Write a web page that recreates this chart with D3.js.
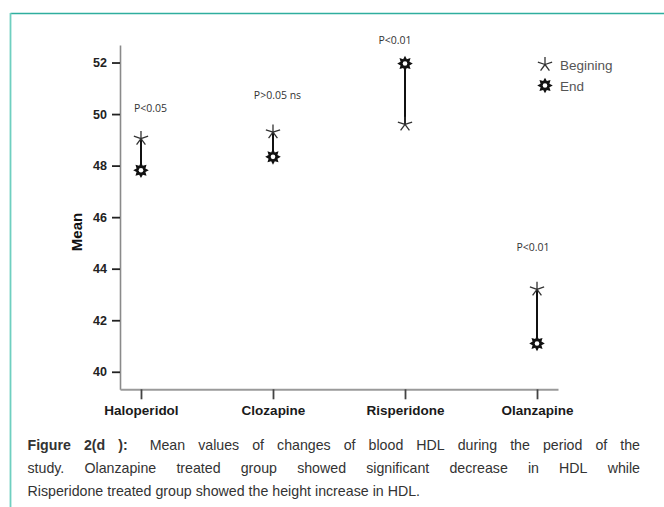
<!DOCTYPE html>
<html><head><meta charset="utf-8">
<script src="https://cdn.jsdelivr.net/npm/d3@7/dist/d3.min.js"></script>
<style>
html,body{margin:0;padding:0;background:#fff;}
svg{display:block;}
</style></head>
<body>
<script>
// ---- data ----
const categories = ["Haloperidol", "Clozapine", "Risperidone", "Olanzapine"];
const beginValues = [49.05, 49.30, 49.60, 43.20];
const endValues = [47.82, 48.34, 51.96, 41.10];
const pLabels = ["P<0.05", "P>0.05 ns", "P<0.01", "P<0.01"];
const pLabelValues = [50.08, 50.58, 52.72, 44.70];
const yTicks = [40, 42, 44, 46, 48, 50, 52];
const legendLabels = ["Begining", "End"];
const yTitle = "Mean";
const captionBold = "Figure 2(d ):";
const captionLines = [
  "Mean values of changes of blood HDL during the period of the",
  "study. Olanzapine treated group showed significant decrease in HDL while",
  "Risperidone treated group showed the height increase in HDL."
];

// ---- layout ----
const W = 664, H = 507;
const pLabelDx = [9.5, 4.5, -10, -4];
const svg = d3.select("body").append("svg").attr("width", W).attr("height", H);

// frame
svg.append("line").attr("x1", 10.5).attr("x2", W).attr("y1", 13.5).attr("y2", 13.5)
  .attr("stroke", "#2fae9e").attr("stroke-width", 1.6);
svg.append("line").attr("x1", 10.5).attr("x2", 10.5).attr("y1", 13).attr("y2", H)
  .attr("stroke", "#6fcfc0").attr("stroke-width", 1.8);

const x = d3.scalePoint().domain(categories).range([120, 558]).padding(0.159);
const y = d3.scaleLinear().domain([39.32, 52.68]).range([389.3, 45]);

// y axis
const yAxis = svg.append("g").attr("transform", "translate(120,0)")
  .call(d3.axisLeft(y).tickValues(yTicks).tickSize(8).tickSizeOuter(0).tickPadding(5).tickFormat(d3.format("d")));
yAxis.select(".domain").attr("stroke", "#8a8a8a").attr("stroke-width", 1.6);
yAxis.selectAll(".tick line").attr("stroke", "#222").attr("stroke-width", 1.8);
yAxis.selectAll(".tick text").attr("fill", "#222")
  .style("font-family", "'Liberation Sans', Arial, sans-serif").style("font-weight", "bold").style("font-size", "12.5px");

// x axis
const xAxis = svg.append("g").attr("transform", "translate(0,389.3)")
  .call(d3.axisBottom(x).tickSize(10).tickSizeOuter(0).tickPadding(6));
xAxis.select(".domain").attr("stroke", "#9a9a9a").attr("stroke-width", 2);
xAxis.selectAll(".tick line").attr("stroke", "#444").attr("stroke-width", 1.8);
xAxis.selectAll(".tick text").attr("fill", "#1a1a1a")
  .style("font-family", "'Liberation Sans', Arial, sans-serif").style("font-weight", "bold").style("font-size", "13.5px");

// y title
svg.append("text").attr("transform", `translate(82,232) rotate(-90)`)
  .attr("text-anchor", "middle").attr("fill", "#111")
  .style("font-family", "'Liberation Sans', Arial, sans-serif").style("font-weight", "bold").style("font-size", "15px")
  .text(yTitle);

// marker generators
function asteriskPath(r) {
  let p = "";
  for (let k = 0; k < 5; k++) {
    const a = (-90 + 72 * k) * Math.PI / 180;
    p += `M0,0L${(r * Math.cos(a)).toFixed(2)},${(r * Math.sin(a)).toFixed(2)}`;
  }
  return p;
}
function gearPath(ro, ri, n) {
  const pts = [];
  for (let k = 0; k < 2 * n; k++) {
    const a = (-90 + 180 / n * k) * Math.PI / 180;
    const r = k % 2 === 0 ? ro : ri;
    pts.push([r * Math.cos(a), r * Math.sin(a)]);
  }
  return "M" + pts.map(p => p[0].toFixed(2) + "," + p[1].toFixed(2)).join("L") + "Z";
}
function drawBegin(g, cx, cy) {
  g.append("path").attr("transform", `translate(${cx},${cy})`).attr("d", asteriskPath(7.5))
    .attr("fill", "none").attr("stroke", "#333").attr("stroke-width", 1.3);
}
function drawEnd(g, cx, cy) {
  const gg = g.append("g").attr("transform", `translate(${cx},${cy})`);
  gg.append("path").attr("d", gearPath(7.8, 4.8, 8)).attr("fill", "#111");
  gg.append("circle").attr("r", 2.3).attr("fill", "#fff");
}

// marks
const marks = svg.append("g");
categories.forEach((c, i) => {
  const cx = x(c);
  marks.append("line").attr("x1", cx).attr("x2", cx)
    .attr("y1", y(beginValues[i])).attr("y2", y(endValues[i]))
    .attr("stroke", "#111").attr("stroke-width", 2);
  drawBegin(marks, cx, y(beginValues[i]));
  drawEnd(marks, cx, y(endValues[i]));
  marks.append("text").attr("x", cx + pLabelDx[i]).attr("y", y(pLabelValues[i]))
    .attr("text-anchor", "middle").attr("fill", "#333")
    .style("font-family", "'Open Sans', 'Liberation Sans', sans-serif").style("font-size", "10.5px")
    .text(pLabels[i]);
});

// legend
const leg = svg.append("g");
drawBegin(leg, 545, 64.5);
drawEnd(leg, 545, 85.5);
legendLabels.forEach((t, i) => {
  leg.append("text").attr("x", 560).attr("y", 69.5 + i * 21).attr("fill", "#555")
    .style("font-family", "'Liberation Sans', Arial, sans-serif").style("font-size", "13.5px").text(t);
});

// caption (justified lines 1-2)
const capFont = "'Liberation Sans', Arial, sans-serif";
const capX0 = 27.5, capX1 = 640, capBase = [449.5, 472.7, 495.7];
captionLines.forEach((line, li) => {
  const words = line.split(" ");
  let items = words.map(w => ({ t: w, bold: false, extra: 0 }));
  if (li === 0) {
    const b = captionBold.split(" ").map(w => ({ t: w, bold: true, extra: 0 }));
    b[b.length - 1].extra = 9; // double space after the bold label
    items = b.concat(items);
  }
  const g = svg.append("g");
  const texts = items.map(it => g.append("text").attr("y", capBase[li]).attr("fill", "#333")
    .style("font-family", capFont).style("font-size", "14.2px")
    .style("font-weight", it.bold ? "bold" : "normal").text(it.t));
  const widths = texts.map(t => t.node().getComputedTextLength());
  const total = d3.sum(widths) + d3.sum(items, d => d.extra);
  const justify = li < 2;
  const gap = justify ? (capX1 - capX0 - total) / (items.length - 1) : 4;
  let xx = capX0;
  texts.forEach((t, k) => { t.attr("x", xx); xx += widths[k] + gap + items[k].extra; });
});
</script>
</body></html>
